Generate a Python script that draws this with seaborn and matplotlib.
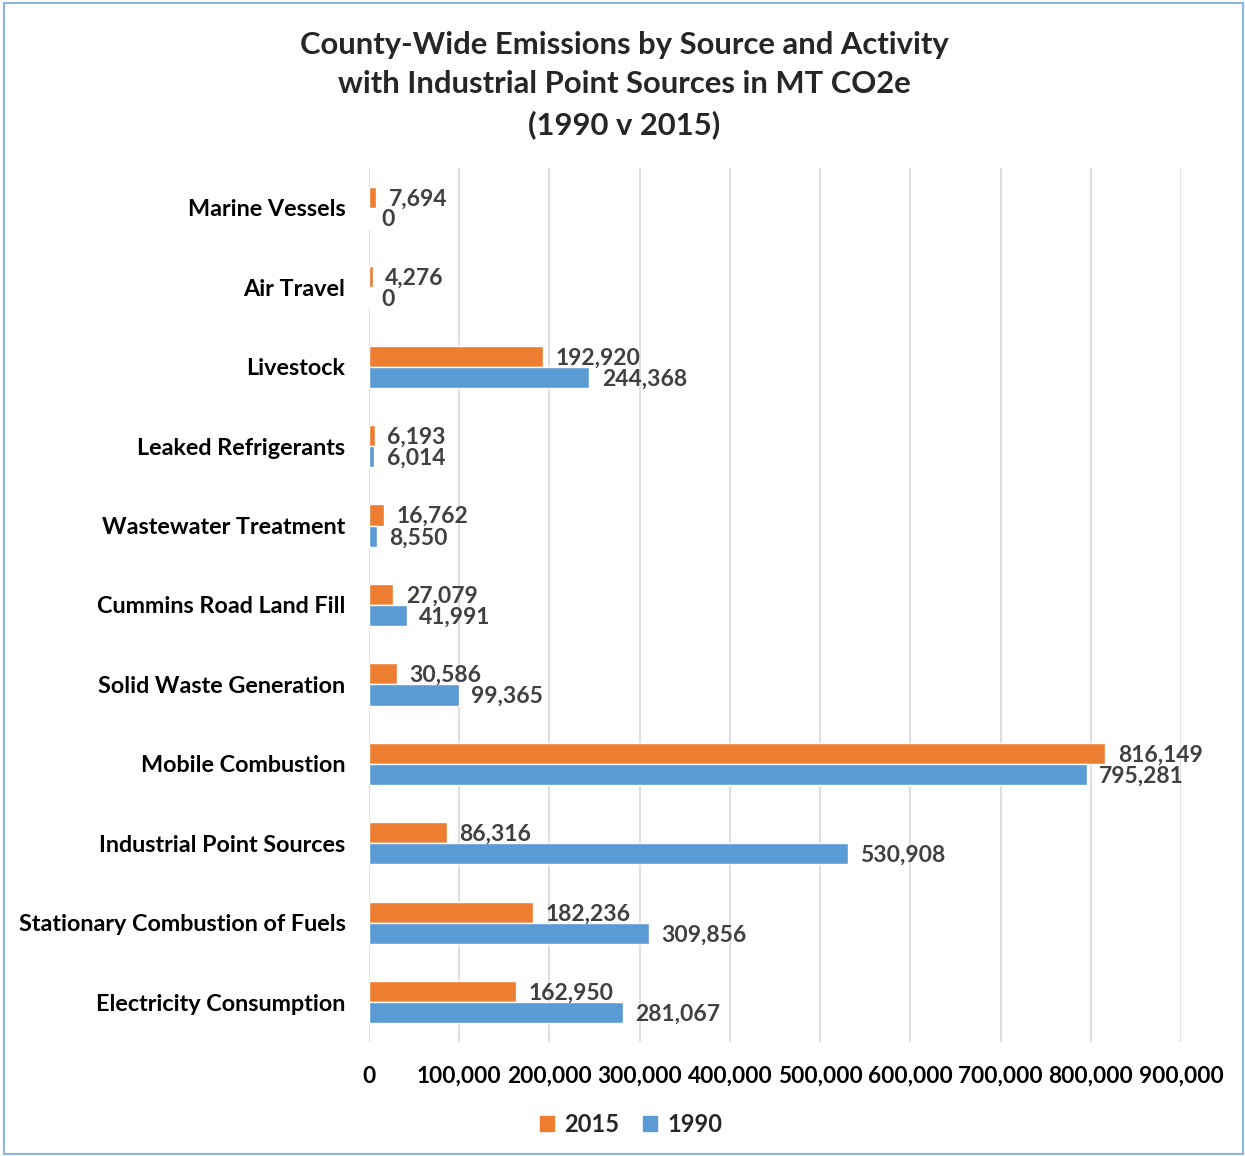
import matplotlib
matplotlib.use("Agg")
import matplotlib.pyplot as plt
import seaborn as sns
import pandas as pd
from matplotlib.patches import Rectangle
from matplotlib.ticker import FuncFormatter

categories = ["Marine Vessels", "Air Travel", "Livestock", "Leaked Refrigerants",
              "Wastewater Treatment", "Cummins Road Land Fill", "Solid Waste Generation",
              "Mobile Combustion", "Industrial Point Sources",
              "Stationary Combustion of Fuels", "Electricity Consumption"]
values_2015 = [7694, 4276, 192920, 6193, 16762, 27079, 30586, 816149, 86316, 182236, 162950]
values_1990 = [0, 0, 244368, 6014, 8550, 41991, 99365, 795281, 530908, 309856, 281067]
series = ["2015", "1990"]
colors = ["#ED7D31", "#5B9BD5"]
x_ticks = [0, 100000, 200000, 300000, 400000, 500000, 600000, 700000, 800000, 900000]
title = "County-Wide Emissions by Source and Activity\nwith Industrial Point Sources in MT CO2e\n(1990 v 2015)"

df = pd.DataFrame({
    "Category": categories * 2,
    "Year": [series[0]] * len(categories) + [series[1]] * len(categories),
    "Value": values_2015 + values_1990,
})

sns.set_theme(style="white")
plt.rcParams["font.family"] = ["Lato", "DejaVu Sans"]

fig = plt.figure(figsize=(12.45, 11.56), dpi=100)
ax = fig.add_axes([0.2964, 0.0986, 0.6522, 0.7561])

sns.barplot(data=df, y="Category", x="Value", hue="Year", order=categories,
            hue_order=series, palette=colors, orient="h", width=0.53,
            saturation=1, ax=ax, legend=False)

for cont in ax.containers:
    for patch, v in zip(cont.patches, cont.datavalues):
        ax.annotate(f"{v:,.0f}", xy=(patch.get_x() + patch.get_width(),
                                     patch.get_y() + patch.get_height() / 2),
                    xytext=(9, -1.2), textcoords="offset points", ha="left", va="center",
                    fontsize=16.5, fontweight="bold", color="#404040")

ax.set_xlim(0, 900000)
ax.set_xticks(x_ticks)
ax.xaxis.set_major_formatter(FuncFormatter(lambda v, p: f"{v:,.0f}"))
ax.grid(axis="x", color="#D9D9D9", linewidth=1.2)
ax.grid(axis="y", visible=False)
ax.set_axisbelow(True)
for s in ax.spines.values():
    s.set_visible(False)
ax.set_xlabel("")
ax.set_ylabel("")
ax.tick_params(axis="x", labelsize=16.3, pad=17, length=0)
ax.tick_params(axis="y", labelsize=16.8, pad=17, length=0)
for lab in ax.get_xticklabels() + ax.get_yticklabels():
    lab.set_fontweight("bold")
    lab.set_color("black")

fig.text(0.5015, 0.9735, title, ha="center", va="top", fontsize=22.3,
         fontweight="bold", linespacing=1.5)

handles = [Rectangle((0, 0), 1, 1, color=c) for c in colors]
fig.legend(handles, series, loc="center", bbox_to_anchor=(0.507, 0.027), ncol=2,
           frameon=False, handlelength=0.6, handleheight=0.6, handletextpad=0.45,
           columnspacing=1.0, prop={"size": 17, "weight": "bold"})

fig.patches.append(Rectangle((0.003, 0.002), 0.995, 0.995, transform=fig.transFigure,
                             fill=False, edgecolor="#8AB6E3", linewidth=1.5))

fig.savefig("out.png", dpi=100)
